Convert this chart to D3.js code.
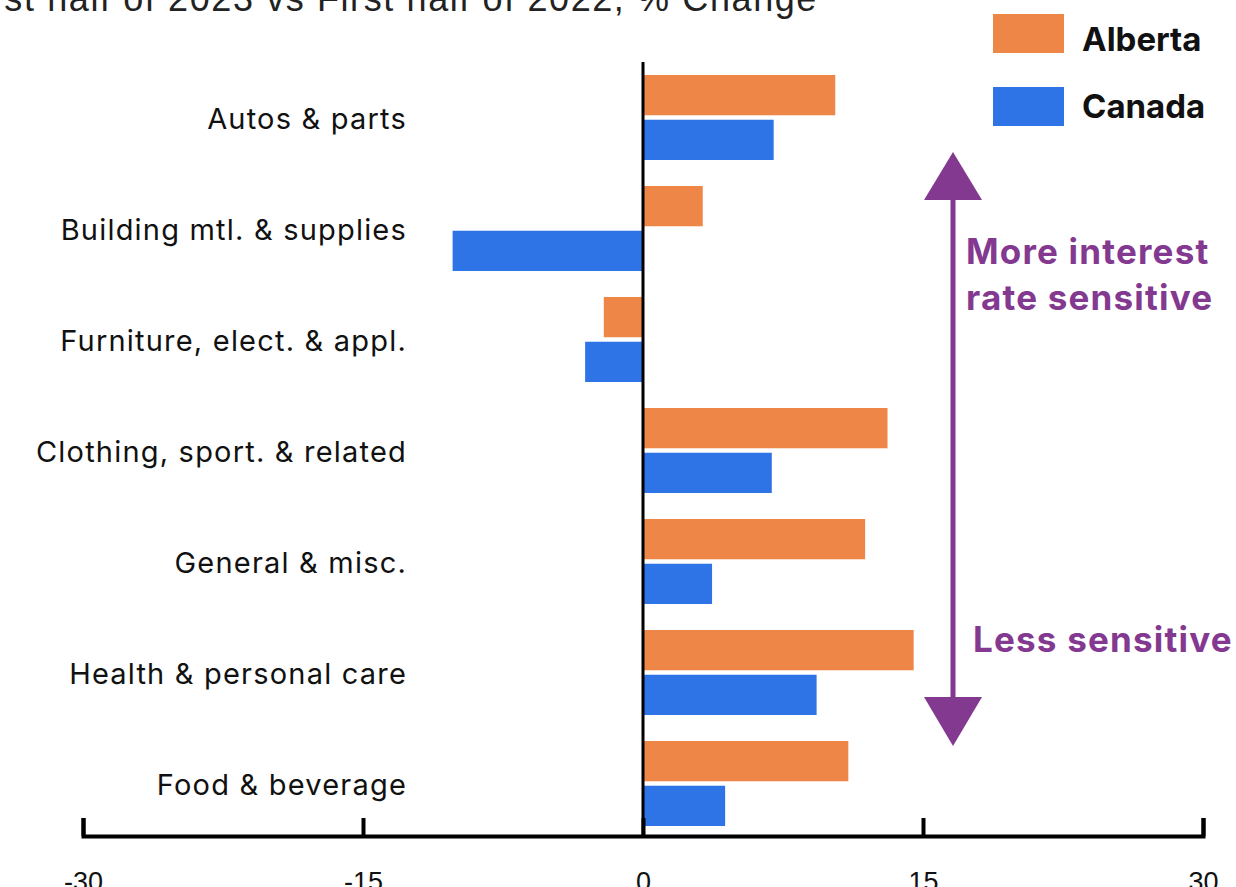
<!DOCTYPE html>
<html>
<head>
<meta charset="utf-8">
<script src="https://cdn.jsdelivr.net/npm/d3@7"></script>
<style>
  body { margin: 0; background: #fff; }
  svg { display: block; }
  .cat { font-family: Inter, "Noto Sans", sans-serif; font-size: 29px; letter-spacing: 1.2px; fill: #111; }
  .axis text { font-family: "Liberation Sans", Arial, sans-serif; font-size: 27px; fill: #111; }
  .legend text { font-family: Inter, sans-serif; font-size: 33px; font-weight: 700; fill: #111; }
  .note { font-family: Inter, sans-serif; font-size: 35px; font-weight: 700; letter-spacing: 1.2px; fill: #833990; }
</style>
</head>
<body>
<svg id="chart"></svg>
<script>

var width = 1236;
var height = 887;

// data
var categories = ["Autos & parts", "Building mtl. & supplies", "Furniture, elect. & appl.",
  "Clothing, sport. & related", "General & misc.", "Health & personal care", "Food & beverage"];
var seriesNames = ["Alberta", "Canada"];
var alberta = [10.3, 3.2, -2.1, 13.1, 11.9, 14.5, 11.0];
var canada = [7.0, -10.2, -3.1, 6.9, 3.7, 9.3, 4.4];
var xTicks = [-30, -15, 0, 15, 30];
var colors = ["#EE8647", "#2F74E6"];
var purple = "#833990";

var rows = categories.map(function(c, i) {
  return {cat: c, values: [
    {name: seriesNames[0], v: alberta[i]},
    {name: seriesNames[1], v: canada[i]}
  ]};
});

var svg = d3.select("#chart")
  .attr("width", width)
  .attr("height", height);

var x = d3.scaleLinear()
  .domain([-30, 30])
  .range([83, 1203]);

var y = d3.scaleBand()
  .domain(categories)
  .range([62, 839])
  .paddingInner(0.234)
  .paddingOuter(0.117);

var ySub = d3.scaleBand()
  .domain(seriesNames)
  .range([0, y.bandwidth()])
  .paddingInner(0.1);

var color = d3.scaleOrdinal().domain(seriesNames).range(colors);

// title, cut off at top-left like the original
svg.append("text")
  .attr("x", 818)
  .attr("y", 11)
  .attr("text-anchor", "end")
  .style("font-family", "'Liberation Sans', Arial, sans-serif")
  .style("font-size", "36px")
  .style("letter-spacing", "1.6px")
  .style("fill", "#222")
  .text("First half of 2023 vs First half of 2022, % Change");

// bars
var groups = svg.selectAll(".grp")
  .data(rows)
  .enter().append("g")
  .attr("class", "grp")
  .attr("transform", function(d) { return "translate(0," + y(d.cat) + ")"; });

groups.selectAll("rect")
  .data(function(d) { return d.values; })
  .enter().append("rect")
  .attr("x", function(d) { return x(Math.min(0, d.v)); })
  .attr("y", function(d) { return ySub(d.name); })
  .attr("width", function(d) { return Math.abs(x(d.v) - x(0)); })
  .attr("height", ySub.bandwidth())
  .attr("fill", function(d) { return color(d.name); });

// category labels
svg.selectAll(".cat")
  .data(categories)
  .enter().append("text")
  .attr("class", "cat")
  .attr("x", 407)
  .attr("y", function(d) { return y(d) + y.bandwidth() / 2 + 11; })
  .attr("text-anchor", "end")
  .text(function(d) { return d; });

// zero line
svg.append("line")
  .attr("x1", x(0)).attr("x2", x(0))
  .attr("y1", 62).attr("y2", 836)
  .attr("stroke", "#000")
  .attr("stroke-width", 3);

// x axis
var axisY = 836;
var xAxis = svg.append("g")
  .attr("class", "axis")
  .attr("transform", "translate(0," + axisY + ")")
  .call(d3.axisBottom(x).tickValues(xTicks).tickSize(-18).tickSizeOuter(-18)
    .tickFormat(function(d) { return String(d); }));

xAxis.select(".domain").attr("stroke", "#000").attr("stroke-width", 4);
xAxis.selectAll(".tick line").attr("stroke", "#000").attr("stroke-width", 4);
xAxis.selectAll(".tick text").attr("y", 55).attr("dy", 0);

// legend
var legend = svg.append("g").attr("class", "legend");
seriesNames.forEach(function(s, i) {
  legend.append("rect")
    .attr("x", 993).attr("y", 14 + i * 73)
    .attr("width", 71).attr("height", 39)
    .attr("fill", color(s));
  legend.append("text")
    .attr("x", 1082).attr("y", 51 + i * 67)
    .text(s);
});

// sensitivity arrow
var ax = 953;
svg.append("line")
  .attr("x1", ax).attr("x2", ax)
  .attr("y1", 195).attr("y2", 702)
  .attr("stroke", purple)
  .attr("stroke-width", 5);

svg.append("path")
  .attr("d", "M" + ax + ",152 L" + (ax + 29) + ",200 L" + (ax - 29) + ",200 Z")
  .attr("fill", purple);
svg.append("path")
  .attr("d", "M" + ax + ",746 L" + (ax + 29) + ",697 L" + (ax - 29) + ",697 Z")
  .attr("fill", purple);

svg.append("text").attr("class", "note").attr("x", 966).attr("y", 264).text("More interest");
svg.append("text").attr("class", "note").attr("x", 966).attr("y", 310).text("rate sensitive");
svg.append("text").attr("class", "note").attr("x", 973).attr("y", 652).text("Less sensitive");

</script>
</body>
</html>
